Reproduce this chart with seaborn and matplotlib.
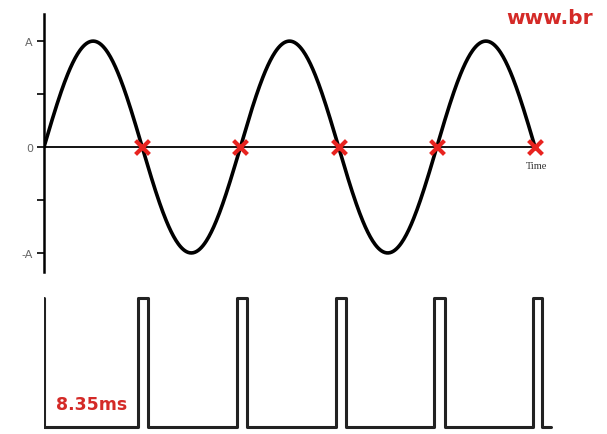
import numpy as np
import pandas as pd
import seaborn as sns
import matplotlib.pyplot as plt

# Sinus secteur + signal de passage par zéro
amplitude = 1.0
half_period = 8.35          # ms, d'où l'étiquette "8.35ms"
n_half_cycles = 5
zero_crossings = [8.35, 16.70, 25.05, 33.40, 41.75]
y_ticks = [1.0, 0.5, 0.0, -0.5, -1.0]
y_tick_labels = ["A", "", "0", "", "-A"]

# impulsions (début / fin en ms)
pulse_rise = [7.99, 16.41, 24.83, 33.16, 41.58]
pulse_fall = [8.84, 17.26, 25.68, 34.10, 42.35]
trace_end = 43.1

sns.set_style("white")

fig = plt.figure(figsize=(6.07, 4.35), dpi=100)
ax = fig.add_axes([44 / 607, 1 - 273 / 435, 511 / 607, 258 / 435])
ax2 = fig.add_axes([44 / 607, 0.0, 511 / 607, 150 / 435], sharex=ax)

# courbe sinusoïdale
t = np.linspace(0, half_period * n_half_cycles, 600)
sine = pd.DataFrame({"t": t, "v": amplitude * np.sin(np.pi * t / half_period)})
sns.lineplot(data=sine, x="t", y="v", ax=ax, color="black", linewidth=2.6)

# axe du temps
ax.plot([0, zero_crossings[-1]], [0, 0], color="black", linewidth=1.3, zorder=1)

# croix rouges aux passages par zéro
sns.scatterplot(x=zero_crossings, y=[0] * len(zero_crossings), ax=ax, marker="x",
                color="#e8231f", s=100, linewidth=3, zorder=5)

ax.set_xlim(0, 43.45)
ax.set_ylim(-1.18, 1.256)
ax.set_yticks(y_ticks)
ax.set_yticklabels(y_tick_labels, color="#666666", fontsize=8)
ax.tick_params(axis="y", direction="out", length=5, width=1.2, color="black", pad=3, left=True)
ax.tick_params(axis="x", bottom=False, labelbottom=False)
ax.set_xlabel("")
ax.set_ylabel("")
for side in ["top", "right", "bottom"]:
    ax.spines[side].set_visible(False)
ax.spines["left"].set_color("black")
ax.spines["left"].set_linewidth(1.8)
ax.text(41.9, -0.17, "Time", family="Liberation Serif", fontsize=7.5,
        color="#333333", ha="center", va="center")

# signal carré
px = [0.0, 0.0]
py = [1.0, 0.0]
for r, f in zip(pulse_rise, pulse_fall):
    px += [r, r, f, f]
    py += [0.0, 1.0, 1.0, 0.0]
px.append(trace_end)
py.append(0.0)
pulses = pd.DataFrame({"t": px, "v": py})
sns.lineplot(data=pulses, x="t", y="v", ax=ax2, sort=False, estimator=None,
             color="#222222", linewidth=2.2)
ax2.set_ylim(-0.054, 1.109)
ax2.axis("off")

ax2.text(1.0, 0.18, "8.35ms", color="#d42a27", fontsize=12.5, fontweight="bold",
         ha="left", va="center")
fig.text(593 / 607, 1 - 18 / 435, "www.br", color="#d42a27", fontsize=14.5,
         fontweight="bold", ha="right", va="center")

fig.savefig("out.png", dpi=100)
